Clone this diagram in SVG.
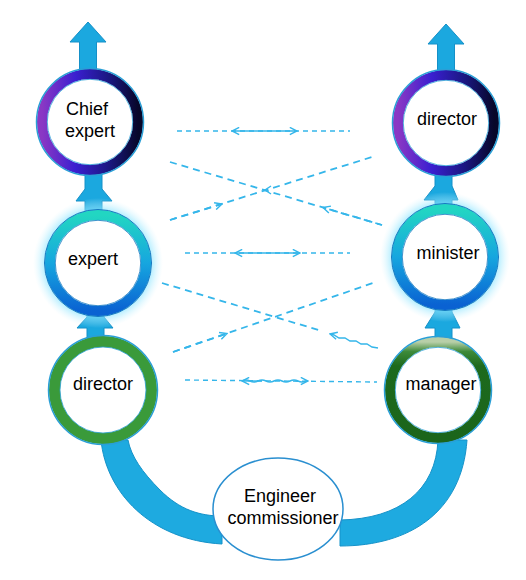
<svg xmlns="http://www.w3.org/2000/svg" width="526" height="580" viewBox="0 0 526 580">
<defs>
<style>
.txt{font-family:"Liberation Sans",Arial,sans-serif;font-size:18px;fill:#000;text-anchor:middle}
.band{fill:#1eaae0;stroke:#1592c9;stroke-width:1}
.dash{fill:none;stroke:#35b6ea;stroke-width:1.4;stroke-dasharray:5 4}
.dash2{fill:none;stroke:#35b6ea;stroke-width:1.8;stroke-dasharray:7 5}
.solid{fill:none;stroke:#35b6ea;stroke-width:1.4}
.rim{fill:none;stroke:#2a9fd6;stroke-width:1.5}
.inner{fill:#fff}
</style>
<linearGradient id="gPurple" x1="0" y1="0" x2="1" y2="0">
<stop offset="0" stop-color="#8a38c4"/>
<stop offset="0.35" stop-color="#3a1fd0"/>
<stop offset="0.7" stop-color="#1a1780"/>
<stop offset="1" stop-color="#07072a"/>
</linearGradient>
<linearGradient id="gTeal" x1="0" y1="0" x2="0" y2="1">
<stop offset="0" stop-color="#22d6c2"/>
<stop offset="0.5" stop-color="#16a6df"/>
<stop offset="1" stop-color="#0a62d2"/>
</linearGradient>
<linearGradient id="gDark" x1="0" y1="0" x2="0" y2="1">
<stop offset="0" stop-color="#b8cfa8"/>
<stop offset="0.1" stop-color="#3d8a3a"/>
<stop offset="0.25" stop-color="#1d6a1d"/>
<stop offset="1" stop-color="#1b651b"/>
</linearGradient>
<radialGradient id="gGlow" cx="0.5" cy="0.5" r="0.5">
<stop offset="0.78" stop-color="#7fe2ff" stop-opacity="0.8"/>
<stop offset="1" stop-color="#d0f4ff" stop-opacity="0"/>
</radialGradient>
<marker id="ah" viewBox="0 0 10 10" refX="9" refY="5" markerWidth="9" markerHeight="9" markerUnits="userSpaceOnUse" orient="auto-start-reverse">
<path d="M1,1 L9,5 L1,9" fill="none" stroke="#35b6ea" stroke-width="1.6"/>
</marker>
</defs>

<g id="connectors">
<path class="band" d="M101,440 C106,492 150,540 222,544 L222,516 C200,516 180,510 160,490 C142,472 131,456 128,440 Z"/>
<path class="band" d="M438,440 C436,490 400,519 340,520 L340,546 C410,546 462,512 467,440 Z"/>
<g fill="#1ba8df" stroke="#1590c8" stroke-width="1">
<path d="M88,22 L106,42 L96.5,42 L96.5,125 L79.5,125 L79.5,42 L70,42 Z"/>
<path d="M446,24 L464,44 L454.5,44 L454.5,125 L437.5,125 L437.5,44 L428,44 Z"/>
<path d="M85,150 L102,150 L102,189 L112,201 L102,201 L102,240 L85,240 L85,201 L76,201 L85,189 Z"/>
<path d="M87,290 L104,290 L104,317 L113,328 L104,328 L104,360 L87,360 L87,328 L77,328 L87,317 Z"/>
<path d="M435,150 L452,150 L452,186 L458,200 L452,200 L452,240 L435,240 L435,200 L424,200 L435,186 Z"/>
<path d="M435,280 L452,280 L452,312 L460,328 L452,328 L452,360 L435,360 L435,328 L425,328 L435,312 Z"/>
</g>
<line class="dash" x1="177" y1="131" x2="350" y2="131"/>
<line class="solid" x1="232" y1="131" x2="297" y2="131" marker-start="url(#ah)" marker-end="url(#ah)"/>
<line class="dash2" x1="170" y1="162" x2="382" y2="225"/>
<line class="dash2" x1="382" y1="225" x2="323" y2="207.5" marker-end="url(#ah)"/>
<line class="dash2" x1="170" y1="220" x2="372" y2="157"/>
<line class="dash2" x1="170" y1="220" x2="222" y2="204" marker-end="url(#ah)"/>
<path class="solid" d="M271,186 L265,190 L271,194"/>

<line class="dash" x1="185" y1="253" x2="350" y2="253"/>
<line class="solid" x1="235" y1="253" x2="300" y2="253" marker-start="url(#ah)" marker-end="url(#ah)"/>
<line class="dash2" x1="162" y1="283" x2="320" y2="330.5"/>
<path class="solid" d="M378,348 l-6,-1 l-5,-3 l-6,0 l-5,-3 l-6,0 l-5,-3 l-6,0 l-5,-3 l-4,-1" marker-end="url(#ah)"/>
<line class="dash2" x1="173" y1="352" x2="373" y2="283"/>
<line class="dash2" x1="173" y1="352" x2="227" y2="333.5" marker-end="url(#ah)"/>

<line class="dash" x1="185" y1="380" x2="377" y2="382"/>
<path class="solid" d="M242,381 q4,-2 8,0 t8,0 t8,0 t8,0 t8,0 t8,0 t8,0 t8,0 l2,0" marker-end="url(#ah)"/>
<line class="solid" x1="262" y1="381" x2="242" y2="381" marker-end="url(#ah)"/>
</g>

<g id="chief-expert">
<circle cx="90" cy="122" r="48" class="inner" stroke="url(#gPurple)" stroke-width="10"/>
<circle cx="90" cy="122" r="53.5" class="rim"/>
<circle cx="90" cy="122" r="42.7" fill="none" stroke="#2a9fd6" stroke-width="0.8"/>
<text class="txt" x="87" y="115">Chief</text>
<text class="txt" x="90" y="137">expert</text>
</g>

<g id="director-top">
<circle cx="446" cy="123" r="48" class="inner" stroke="url(#gPurple)" stroke-width="10"/>
<circle cx="446" cy="123" r="53.5" class="rim"/>
<circle cx="446" cy="123" r="42.7" fill="none" stroke="#2a9fd6" stroke-width="0.8"/>
<text class="txt" x="447" y="125">director</text>
</g>

<g id="expert">
<circle cx="98" cy="263" r="65" fill="url(#gGlow)"/>
<circle cx="98" cy="263" r="48" class="inner" stroke="url(#gTeal)" stroke-width="10"/>
<circle cx="98" cy="263" r="53.5" fill="none" stroke="#1478c0" stroke-width="1"/>
<circle cx="98" cy="263" r="42.7" fill="none" stroke="#1478c0" stroke-width="0.8"/>
<text class="txt" x="93" y="265">expert</text>
</g>

<g id="minister">
<circle cx="445" cy="257" r="65" fill="url(#gGlow)"/>
<circle cx="445" cy="257" r="48" class="inner" stroke="url(#gTeal)" stroke-width="10"/>
<circle cx="445" cy="257" r="53.5" fill="none" stroke="#1478c0" stroke-width="1"/>
<circle cx="445" cy="257" r="42.7" fill="none" stroke="#1478c0" stroke-width="0.8"/>
<text class="txt" x="448" y="259">minister</text>
</g>

<g id="director-left">
<circle cx="103" cy="390" r="48.5" class="inner" stroke="#3a9a3a" stroke-width="11"/>
<circle cx="103" cy="390" r="54.5" class="rim"/>
<circle cx="103" cy="390" r="43" fill="none" stroke="#2a9fd6" stroke-width="0.8"/>
<text class="txt" x="103" y="390">director</text>
</g>

<g id="manager">
<circle cx="438" cy="390" r="48" class="inner" stroke="url(#gDark)" stroke-width="10"/>
<circle cx="438" cy="390" r="53.5" class="rim"/>
<circle cx="438" cy="390" r="42.7" fill="none" stroke="#2a9fd6" stroke-width="0.8"/>
<text class="txt" x="441" y="390">manager</text>
</g>

<g id="engineer-commissioner">
<ellipse cx="278" cy="509" rx="65" ry="51" fill="#fff" stroke="#2a8fd0" stroke-width="1.5"/>
<text class="txt" x="280" y="502">Engineer</text>
<text class="txt" x="283" y="524">commissioner</text>
</g>
</svg>
